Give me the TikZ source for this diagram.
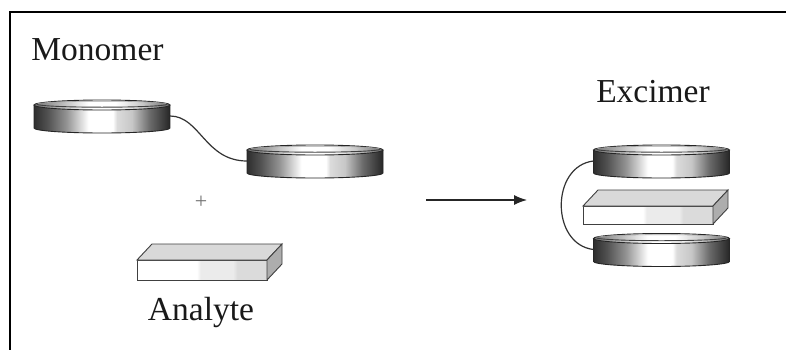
\documentclass[tikz,border=0pt]{standalone}
\usepackage{fontspec}
\setmainfont{Liberation Serif}
\usetikzlibrary{arrows.meta,calc}

% metallic side of a disc: dark edges, bright band left of centre
\pgfdeclarehorizontalshading{diskside}{100bp}{color(0bp)=(black!82); color(25bp)=(black!82); color(30bp)=(black!68); color(37bp)=(black!42); color(45bp)=(white); color(54bp)=(white); color(55.5bp)=(black!14); color(61bp)=(black!22); color(67.5bp)=(black!58); color(75bp)=(black!85); color(100bp)=(black!85)}
% lighter top face of a disc
\pgfdeclarehorizontalshading{disktop}{100bp}{color(0bp)=(black!55); color(25bp)=(black!55); color(35bp)=(black!28); color(45bp)=(white); color(55bp)=(white); color(65bp)=(black!22); color(75bp)=(black!58); color(100bp)=(black!58)}
% front face of a slab: white, then two pale grey bands
\pgfdeclarehorizontalshading{slabfront}{100bp}{color(0bp)=(white); color(48bp)=(white); color(49.5bp)=(black!8); color(62bp)=(black!8); color(63.5bp)=(black!14); color(100bp)=(black!14)}

\tikzset{
  outline/.style={draw=black!85, line width=0.9},
  edge/.style={draw=black!75, line width=0.9},
  tether/.style={draw=black!80, line width=1.2},
  caption/.style={inner sep=0pt, anchor=base, text=black!90, font=\fontsize{33.5}{40}\selectfont},
  slabh/.store in=\slabh, slabh=20,
  disk/.pic={
    \shade[shading=diskside] (-68,0) -- (-68,-23)
      arc[start angle=180, end angle=360, x radius=68, y radius=5] -- (68,0) -- cycle;
    \draw[outline] (-68,0) -- (-68,-23)
      arc[start angle=180, end angle=360, x radius=68, y radius=5] -- (68,0);
    \shadedraw[shading=disktop, outline] (0,0) ellipse[x radius=68, y radius=5];
    \draw[draw=black!35, line width=0.6] (-65,0.8) arc[start angle=180, end angle=0, x radius=65, y radius=3];
    \draw[draw=black!75, line width=0.9] (-65,0.8) arc[start angle=180, end angle=360, x radius=65, y radius=3];
    \coordinate (-west) at (-68,-11);
    \coordinate (-east) at (68,-11);
  },
  slab/.pic={
    \shadedraw[shading=slabfront, edge] (0,0) rectangle (130,\slabh);
    \filldraw[fill=black!15, edge] (0,\slabh) -- (15,\slabh+16) -- (145,\slabh+16) -- (130,\slabh) -- cycle;
    \filldraw[fill=black!32, edge] (130,0) -- (130,\slabh) -- (145,\slabh+16) -- (145,16) -- cycle;
  }
}

\begin{document}
\begin{tikzpicture}[x=1pt, y=1pt]
  \fill[white] (0,0) rectangle (786,349);
  \useasboundingbox (0,0) rectangle (786,349);

  % frame
  \draw[line width=2, black] (790,337) -- (10,337) -- (10,-4);

  % captions
  \node[caption] (monomer) at (97.5,289) {Monomer};
  \node[caption] (analyte) at (201,29) {Analyte};
  \node[caption] (excimer) at (653,247) {Excimer};

  % monomer: two linked discs
  \pic (mA) at (102,244) {disk};
  \pic (mB) at (315,199) {disk};
  \draw[tether] (mA-east) .. controls ($(mA-east)+(30,0)$) and ($(mB-west)+(-42,0)$) .. (mB-west);

  % plus sign and analyte slab
  \node[inner sep=0pt, text=black!55, font=\fontsize{22}{24}\selectfont] (plus) at (201,147) {+};
  \pic (an) at (137,69) {slab};

  % reaction arrow
  \coordinate (arrowtail) at (426,149);
  \coordinate (arrowhead) at (527,149);
  \draw[line width=1.2, black!85, -{Latex[length=13pt, width=10pt]}] (arrowtail) -- (arrowhead);

  % excimer: slab sandwiched between the linked discs
  \pic (eT) at (661.5,199) {disk};
  \pic[slabh=18] (ex) at (583,125) {slab};
  \pic (eB) at (661.5,110.5) {disk};
  \draw[tether] (eT-west) .. controls ($(eT-west)+(-43,-5)$) and ($(eB-west)+(-43,5)$) .. (eB-west);
\end{tikzpicture}
\end{document}
